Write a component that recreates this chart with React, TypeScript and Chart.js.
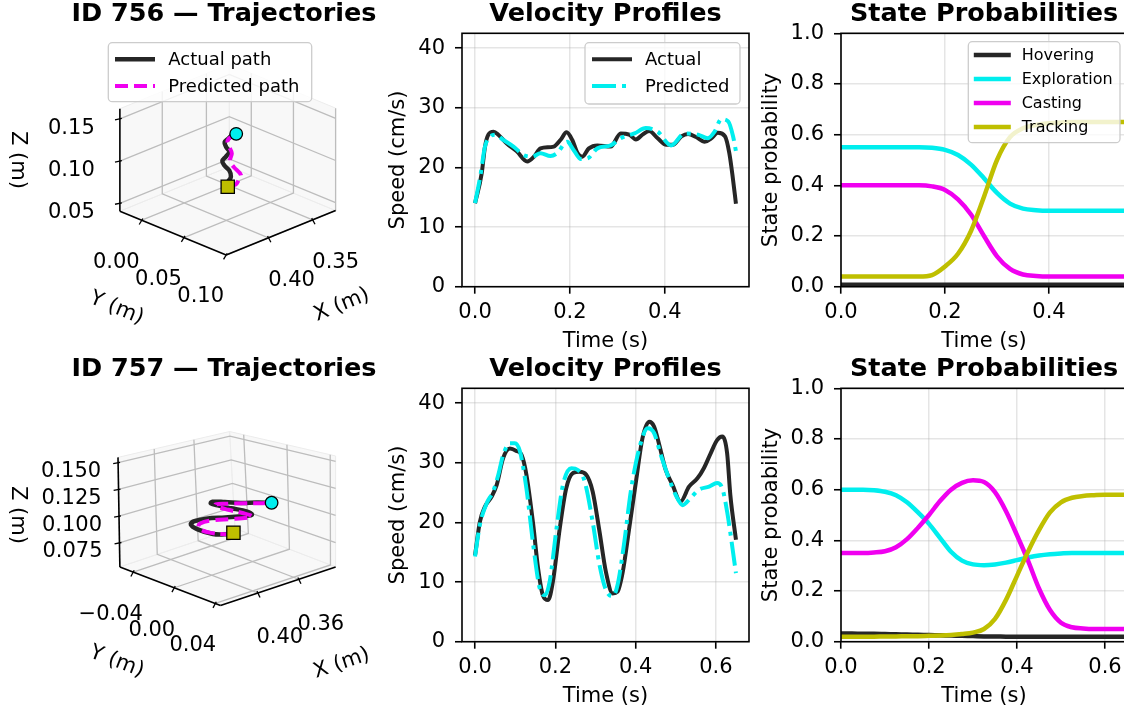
import React, { useEffect, useRef } from 'react';
import { Chart, registerables } from 'chart.js';

Chart.register(...registerables);

const FONT = "'DejaVu Sans', 'Liberation Sans', sans-serif";
Chart.defaults.font.family = FONT;
Chart.defaults.color = '#000';

const BLACK = '#262626';
const CYAN = '#00eeee';
const MAGENTA = '#f000f0';
const OLIVE = '#bfbf00';
const GRID = 'rgba(176,176,176,0.33)';
const GRID3D = '#bdbdbd';
const TICK_FONT = 21;
const LABEL_FONT = 21;
const TITLE_FONT = 25.5;

// ===================== DATA =====================
// --- ID 756 trajectory (m) ---
const traj756ActualX = [0.3841, 0.3841, 0.3805, 0.3823, 0.3876, 0.3902, 0.3859, 0.3823, 0.3859, 0.3876, 0.3841, 0.3787, 0.3745];
const traj756ActualY = [0.035, 0.035, 0.035, 0.035, 0.035, 0.035, 0.035, 0.035, 0.035, 0.035, 0.035, 0.035, 0.035];
const traj756ActualZ = [0.0677, 0.0724, 0.0780, 0.0861, 0.0940, 0.1006, 0.1044, 0.1084, 0.1155, 0.1218, 0.1240, 0.1266, 0.1262];
const traj756PredX = [0.3841, 0.3752, 0.3716, 0.3691, 0.3769, 0.3816, 0.3795, 0.3823, 0.3841, 0.3745];
const traj756PredY = [0.035, 0.035, 0.035, 0.035, 0.035, 0.035, 0.035, 0.035, 0.035, 0.035];
const traj756PredZ = [0.0677, 0.0664, 0.0705, 0.0750, 0.0875, 0.0970, 0.1053, 0.1140, 0.1229, 0.1262];
const traj756XLim = [0.324, 0.448];
const traj756YLim = [-0.026, 0.1];
const traj756ZLim = [0.0407, 0.162];
const traj756XTicks = [0.35, 0.4];
const traj756XTickLabels = ['0.35', '0.40'];
const traj756YTicks = [0.0, 0.05, 0.1];
const traj756YTickLabels = ['0.00', '0.05', '0.10'];
const traj756ZTicks = [0.05, 0.1, 0.15];
const traj756ZTickLabels = ['0.05', '0.10', '0.15'];

// --- ID 757 trajectory (m) ---
const traj757ActualX = [0.3781, 0.3843, 0.3981, 0.4135, 0.4196, 0.4166, 0.4043, 0.3859, 0.3674, 0.3597, 0.3643, 0.3797, 0.3920, 0.3997, 0.3981, 0.3859, 0.3705, 0.3551, 0.3403];
const traj757ActualY = [0, 0, 0, 0, 0, 0, 0, 0, 0, 0, 0, 0, 0, 0, 0, 0, 0, 0, 0];
const traj757ActualZ = [0.0860, 0.0866, 0.0910, 0.1003, 0.1066, 0.1085, 0.1075, 0.1031, 0.0987, 0.0976, 0.1021, 0.1099, 0.1162, 0.1206, 0.1216, 0.1177, 0.1122, 0.1079, 0.1032];
const traj757PredX = [0.3781, 0.3859, 0.4012, 0.4120, 0.4104, 0.3981, 0.3797, 0.3640, 0.3597, 0.3689, 0.3827, 0.3935, 0.3951, 0.3827, 0.3674, 0.3520, 0.3403];
const traj757PredY = [0, 0, 0, 0, 0, 0, 0, 0, 0, 0, 0, 0, 0, 0, 0, 0, 0];
const traj757PredZ = [0.0860, 0.0871, 0.0933, 0.1009, 0.1048, 0.1041, 0.0996, 0.0961, 0.0962, 0.1021, 0.1094, 0.1158, 0.1183, 0.1152, 0.1110, 0.1063, 0.1032];
const traj757XLim = [0.324, 0.4365];
const traj757YLim = [-0.053, 0.045];
const traj757ZLim = [0.0525, 0.155];
const traj757XTicks = [0.36, 0.4];
const traj757XTickLabels = ['0.36', '0.40'];
const traj757YTicks = [-0.04, 0.0, 0.04];
const traj757YTickLabels = ['\u22120.04', '0.00', '0.04'];
const traj757ZTicks = [0.075, 0.1, 0.125, 0.15];
const traj757ZTickLabels = ['0.075', '0.100', '0.125', '0.150'];

// --- Velocity profiles (cm/s) ---
const vel756TimeActual = [0, 0.014, 0.021, 0.028, 0.039, 0.049, 0.067, 0.088, 0.11, 0.124, 0.138, 0.166, 0.18, 0.193, 0.205, 0.216, 0.226, 0.24, 0.258, 0.286, 0.307, 0.325, 0.339, 0.353, 0.367, 0.385, 0.403, 0.417, 0.435, 0.449, 0.466, 0.484, 0.498, 0.512, 0.527, 0.536, 0.543, 0.55];
const vel756Actual = [14.0, 19.0, 23.5, 25.5, 26.0, 25.5, 24.0, 22.7, 21.0, 21.8, 23.2, 23.5, 24.6, 25.9, 24.6, 22.4, 21.8, 23.2, 23.7, 23.5, 25.7, 25.5, 24.7, 25.5, 26.1, 24.9, 23.8, 23.8, 25.2, 25.6, 25.1, 24.3, 24.9, 25.8, 25.2, 22.4, 18.5, 13.9];
const vel756TimePred = [0, 0.011, 0.021, 0.032, 0.042, 0.06, 0.081, 0.102, 0.12, 0.138, 0.159, 0.173, 0.194, 0.208, 0.223, 0.237, 0.258, 0.286, 0.307, 0.336, 0.36, 0.385, 0.413, 0.442, 0.47, 0.491, 0.505, 0.519, 0.534, 0.544, 0.55];
const vel756Pred = [14.0, 18.5, 23.5, 25.2, 25.5, 24.6, 23.5, 22.1, 21.8, 22.4, 21.9, 22.4, 24.3, 22.9, 21.4, 21.5, 23.2, 23.7, 24.9, 25.7, 26.6, 26.0, 23.7, 25.7, 25.5, 24.9, 26.0, 28.1, 27.7, 25.2, 22.7];

const vel757TimeActual = [0, 0.012, 0.025, 0.041, 0.054, 0.07, 0.087, 0.103, 0.116, 0.128, 0.145, 0.157, 0.169, 0.182, 0.194, 0.211, 0.227, 0.244, 0.26, 0.277, 0.293, 0.31, 0.326, 0.343, 0.355, 0.368, 0.384, 0.401, 0.417, 0.434, 0.446, 0.459, 0.475, 0.492, 0.512, 0.533, 0.554, 0.57, 0.587, 0.603, 0.616, 0.628, 0.636, 0.65];
const vel757Actual = [14.5, 20.1, 22.7, 24.3, 26.3, 30.8, 32.4, 32.0, 31.3, 28.0, 19.6, 12.3, 7.8, 7.0, 10.1, 19.0, 25.7, 28.3, 28.5, 28.0, 25.2, 18.5, 11.7, 8.1, 8.4, 11.7, 19.0, 26.9, 34.1, 36.9, 36.1, 33.0, 28.8, 26.3, 23.5, 26.0, 27.4, 29.1, 31.6, 33.8, 34.4, 31.6, 24.6, 17.1];
const vel757TimePred = [0, 0.012, 0.029, 0.045, 0.058, 0.07, 0.087, 0.099, 0.112, 0.128, 0.145, 0.161, 0.174, 0.186, 0.202, 0.219, 0.24, 0.256, 0.273, 0.293, 0.31, 0.326, 0.343, 0.355, 0.372, 0.388, 0.409, 0.43, 0.446, 0.463, 0.483, 0.5, 0.517, 0.537, 0.558, 0.583, 0.603, 0.616, 0.628, 0.65];
const vel757Pred = [14.3, 19.6, 23.2, 25.2, 28.0, 31.3, 33.3, 33.3, 31.9, 25.7, 16.2, 9.0, 7.8, 10.1, 18.5, 26.3, 29.1, 28.8, 26.9, 20.1, 12.9, 8.7, 7.6, 9.5, 16.8, 25.2, 32.4, 35.8, 35.0, 31.3, 27.4, 24.6, 22.9, 24.1, 25.5, 26.0, 26.6, 25.7, 21.8, 11.5];

const velYTicks = [0, 10, 20, 30, 40];
const velYTickLabels = ['0', '10', '20', '30', '40'];
const vel756XTicks = [0, 0.2, 0.4];
const vel756XTickLabels = ['0.0', '0.2', '0.4'];
const vel757XTicks = [0, 0.2, 0.4, 0.6];
const vel757XTickLabels = ['0.0', '0.2', '0.4', '0.6'];

// --- State probabilities ---
const state756Time = [0, 0.025, 0.05, 0.075, 0.1, 0.125, 0.15, 0.175, 0.2, 0.225, 0.25, 0.275, 0.3, 0.325, 0.35, 0.375, 0.4, 0.425, 0.45, 0.475, 0.5, 0.525, 0.55];
const state756Hovering = [0.008, 0.008, 0.008, 0.008, 0.008, 0.008, 0.008, 0.008, 0.008, 0.008, 0.008, 0.008, 0.008, 0.008, 0.008, 0.008, 0.008, 0.008, 0.008, 0.008, 0.008, 0.008, 0.008];
const state756Exploration = [0.55, 0.55, 0.55, 0.55, 0.55, 0.55, 0.55, 0.548, 0.54, 0.52, 0.482, 0.428, 0.37, 0.328, 0.308, 0.302, 0.3, 0.3, 0.3, 0.3, 0.3, 0.3, 0.3];
const state756Casting = [0.4, 0.4, 0.4, 0.4, 0.4, 0.4, 0.4, 0.396, 0.382, 0.345, 0.285, 0.2, 0.12, 0.07, 0.048, 0.042, 0.04, 0.04, 0.04, 0.04, 0.04, 0.04, 0.04];
const state756Tracking = [0.04, 0.04, 0.04, 0.04, 0.04, 0.04, 0.04, 0.046, 0.08, 0.13, 0.22, 0.355, 0.5, 0.59, 0.625, 0.638, 0.645, 0.648, 0.65, 0.65, 0.65, 0.65, 0.65];

const state757Time = [0, 0.025, 0.05, 0.075, 0.1, 0.125, 0.15, 0.175, 0.2, 0.225, 0.25, 0.275, 0.3, 0.325, 0.35, 0.375, 0.4, 0.425, 0.45, 0.475, 0.5, 0.525, 0.55, 0.575, 0.6, 0.625, 0.65];
const state757Hovering = [0.032, 0.032, 0.031, 0.031, 0.03, 0.029, 0.028, 0.027, 0.026, 0.025, 0.024, 0.023, 0.022, 0.021, 0.021, 0.02, 0.02, 0.02, 0.02, 0.02, 0.02, 0.02, 0.02, 0.02, 0.02, 0.02, 0.02];
const state757Exploration = [0.6, 0.6, 0.6, 0.598, 0.592, 0.578, 0.55, 0.51, 0.465, 0.41, 0.355, 0.32, 0.305, 0.302, 0.305, 0.312, 0.322, 0.332, 0.34, 0.345, 0.348, 0.35, 0.35, 0.35, 0.35, 0.35, 0.35];
const state757Casting = [0.35, 0.35, 0.35, 0.352, 0.357, 0.373, 0.405, 0.45, 0.5, 0.555, 0.6, 0.627, 0.637, 0.63, 0.59, 0.515, 0.42, 0.32, 0.21, 0.125, 0.075, 0.057, 0.052, 0.05, 0.05, 0.05, 0.05];
const state757Tracking = [0.02, 0.02, 0.02, 0.02, 0.021, 0.021, 0.022, 0.022, 0.023, 0.024, 0.026, 0.03, 0.036, 0.05, 0.09, 0.165, 0.26, 0.355, 0.44, 0.51, 0.55, 0.568, 0.575, 0.578, 0.58, 0.58, 0.58];

const stateYTicks = [0, 0.2, 0.4, 0.6, 0.8, 1.0];
const stateYTickLabels = ['0.0', '0.2', '0.4', '0.6', '0.8', '1.0'];
const state756XTicks = [0, 0.2, 0.4];
const state756XTickLabels = ['0.0', '0.2', '0.4'];
const state757XTicks = [0, 0.2, 0.4, 0.6];
const state757XTickLabels = ['0.0', '0.2', '0.4', '0.6'];

// ===================== LAYOUT (view geometry) =====================
// Screen corners of the 3D box (canvas px): B=(xmin,ymin), L=(xmax,ymin), R=(xmin,ymax), F=(xmax,ymax); "t" = top (zmax)
const view756 = {
  B: [231.7, 166], L: [115.7, 213.3], R: [344.3, 212.7], F: [228.3, 260],
  Bt: [231.7, 57], Lt: [115.7, 104.3], Rt: [344.3, 103.7], Ft: [228.3, 151],
};
const view757 = {
  B: [237.7, 173], L: [115.7, 214], R: [344.3, 214], F: [222.3, 255],
  Bt: [232, 70], Lt: [113.7, 97.5], Rt: [344.3, 96], Ft: [221.3, 138],
};

// ===================== HELPERS =====================
const lerp2 = (a: number[], b: number[], t: number) => [a[0] + (b[0] - a[0]) * t, a[1] + (b[1] - a[1]) * t];

function project(view: any, lim: any, x: number, y: number, z: number) {
  const u = (x - lim.x[0]) / (lim.x[1] - lim.x[0]);
  const v = (y - lim.y[0]) / (lim.y[1] - lim.y[0]);
  const w = (z - lim.z[0]) / (lim.z[1] - lim.z[0]);
  const bot = lerp2(lerp2(view.B, view.L, u), lerp2(view.R, view.F, u), v);
  const top = lerp2(lerp2(view.Bt, view.Lt, u), lerp2(view.Rt, view.Ft, u), v);
  return lerp2(bot, top, w);
}

function titlePlugin(text: string, centerX?: number) {
  return {
    id: 'panelTitle',
    afterDraw(chart: any) {
      const { ctx, chartArea } = chart;
      ctx.save();
      ctx.font = `bold ${TITLE_FONT}px ${FONT}`;
      ctx.fillStyle = '#000';
      ctx.textAlign = 'center';
      ctx.textBaseline = 'alphabetic';
      const cx = centerX !== undefined ? centerX : (chartArea.left + chartArea.right) / 2;
      ctx.fillText(text, cx, 21);
      ctx.restore();
    },
  };
}

const framePlugin = {
  id: 'frame',
  afterDatasetsDraw(chart: any) {
    const { ctx, chartArea: a } = chart;
    ctx.save();
    ctx.strokeStyle = '#000';
    ctx.lineWidth = 1.6;
    ctx.strokeRect(a.left, a.top, a.right - a.left, a.bottom - a.top);
    ctx.restore();
  },
};

function legendPlugin(s: any) {
  return {
    id: 'boxLegend',
    afterDraw(chart: any) {
      const ctx = chart.ctx;
      ctx.save();
      ctx.beginPath();
      ctx.roundRect(s.left, s.top, s.width, s.height, 4);
      ctx.fillStyle = 'rgba(255,255,255,0.8)';
      ctx.fill();
      ctx.lineWidth = 1.3;
      ctx.strokeStyle = '#cccccc';
      ctx.stroke();
      s.labels.forEach((lab: string, i: number) => {
        const ds = chart.data.datasets.find((d: any) => d.label === lab);
        const y = s.top + s.row0 + i * s.rowGap;
        ctx.beginPath();
        ctx.setLineDash(ds.borderDash || []);
        ctx.strokeStyle = ds.borderColor;
        ctx.lineWidth = ds.borderWidth;
        ctx.moveTo(s.left + s.handleX, y);
        ctx.lineTo(s.left + s.handleX + s.handleLen, y);
        ctx.stroke();
        ctx.setLineDash([]);
        ctx.fillStyle = '#000';
        ctx.font = `${s.fontSize}px ${FONT}`;
        ctx.textAlign = 'left';
        ctx.textBaseline = 'middle';
        ctx.fillText(lab, s.left + s.textX, y + 1);
      });
      ctx.restore();
    },
  };
}

function xAxis(min: number, max: number, ticks: number[], labels: string[], title: string) {
  return {
    type: 'linear',
    min,
    max,
    afterBuildTicks: (sc: any) => { sc.ticks = ticks.map((v) => ({ value: v })); },
    afterFit: (sc: any) => { sc.height = 67; },
    ticks: { font: { size: TICK_FONT }, color: '#000', padding: 6, maxRotation: 0, minRotation: 0, autoSkip: false, callback: (_v: any, i: number) => labels[i] },
    grid: { color: GRID, lineWidth: 1.5, drawTicks: true, tickLength: 7, tickColor: '#000', tickWidth: 1.6 },
    border: { display: false },
    title: { display: true, text: title, font: { size: LABEL_FONT }, color: '#000', padding: 0 },
  };
}

function yAxis(min: number, max: number, ticks: number[], labels: string[], title: string, width: number) {
  return {
    type: 'linear',
    min,
    max,
    afterBuildTicks: (sc: any) => { sc.ticks = ticks.map((v) => ({ value: v })); },
    afterFit: (sc: any) => { sc.width = width; },
    ticks: { font: { size: TICK_FONT }, color: '#000', padding: 10, autoSkip: false, callback: (_v: any, i: number) => labels[i] },
    grid: { color: GRID, lineWidth: 1.5, drawTicks: true, tickLength: 7, tickColor: '#000', tickWidth: 1.6 },
    border: { display: false },
    title: { display: true, text: title, font: { size: LABEL_FONT }, color: '#000', padding: 0 },
  };
}

const common = {
  responsive: false,
  maintainAspectRatio: false,
  animation: false,
  devicePixelRatio: 1,
  events: [],
};

const pts = (xs: number[], ys: number[]) => xs.map((x, i) => ({ x, y: ys[i] }));

function velocityConfig(s: any) {
  return {
    type: 'line',
    data: {
      datasets: [
        { label: 'Actual', data: pts(s.tA, s.vA), borderColor: BLACK, borderWidth: 4, pointRadius: 0, cubicInterpolationMode: 'monotone', fill: false, order: 2 },
        { label: 'Predicted', data: pts(s.tP, s.vP), borderColor: CYAN, borderWidth: 4, borderDash: [24, 6, 4, 6], pointRadius: 0, cubicInterpolationMode: 'monotone', fill: false, order: 1 },
      ],
    },
    options: {
      ...common,
      layout: { padding: { left: 6.4, right: 11, top: 33.3, bottom: s.padBottom } },
      plugins: { legend: { display: false }, tooltip: { enabled: false }, title: { display: false } },
      scales: {
        x: xAxis(s.xMin, s.xMax, s.xTicks, s.xLabels, 'Time (s)'),
        y: yAxis(0, 42.5, velYTicks, velYTickLabels, 'Speed (cm/s)', 75.6),
      },
    },
    plugins: [
      titlePlugin('Velocity Profiles'),
      framePlugin,
      ...(s.legend ? [legendPlugin({ labels: ['Actual', 'Predicted'], left: 205, top: 42.7, width: 155, height: 61.3, row0: 16.6, rowGap: 26.7, handleX: 7, handleLen: 40, textX: 60, fontSize: 18 })] : []),
    ],
  };
}

function stateConfig(s: any) {
  const mk = (label: string, ys: number[], color: string, order: number) => ({
    label, data: pts(s.t, ys), borderColor: color, borderWidth: 4.5, pointRadius: 0, cubicInterpolationMode: 'monotone', fill: false, order,
  });
  return {
    type: 'line',
    data: {
      datasets: [
        mk('Hovering', s.hov, BLACK, 4),
        mk('Exploration', s.exp, CYAN, 3),
        mk('Casting', s.cas, MAGENTA, 2),
        mk('Tracking', s.trk, OLIVE, 1),
      ],
    },
    options: {
      ...common,
      layout: { padding: { left: 14.1, right: 13, top: 33.3, bottom: s.padBottom } },
      plugins: { legend: { display: false }, tooltip: { enabled: false }, title: { display: false } },
      scales: {
        x: xAxis(0, s.xMax, s.xTicks, s.xLabels, 'Time (s)'),
        y: yAxis(0, 1, stateYTicks, stateYTickLabels, 'State probability', 81.9),
      },
    },
    plugins: [
      titlePlugin('State Probabilities'),
      framePlugin,
      ...(s.legend ? [legendPlugin({ labels: ['Hovering', 'Exploration', 'Casting', 'Tracking'], left: 223.3, top: 41.7, width: 151.7, height: 101, row0: 13.3, rowGap: 24, handleX: 5.5, handleLen: 37, textX: 53.4, fontSize: 16 })] : []),
    ],
  };
}

function box3DPlugin(s: any) {
  return {
    id: 'box3d',
    beforeDatasetsDraw(chart: any) {
      const ctx = chart.ctx;
      const xs = chart.scales.x;
      const ys = chart.scales.y;
      const P = (x: number, y: number, z: number) => {
        const q = project(s.view, s.lim, x, y, z);
        return [xs.getPixelForValue(q[0]), ys.getPixelForValue(q[1])];
      };
      const [x0, x1] = s.lim.x;
      const [y0, y1] = s.lim.y;
      const [z0, z1] = s.lim.z;
      ctx.save();
      const pane = (p: number[][]) => {
        ctx.beginPath();
        p.forEach((q, i) => (i ? ctx.lineTo(q[0], q[1]) : ctx.moveTo(q[0], q[1])));
        ctx.closePath();
        ctx.fillStyle = 'rgba(242,242,242,0.5)';
        ctx.fill();
        ctx.strokeStyle = 'rgba(236,236,236,1)';
        ctx.lineWidth = 1;
        ctx.stroke();
      };
      const line = (p: number[][], color: string, lw: number) => {
        ctx.beginPath();
        p.forEach((q, i) => (i ? ctx.lineTo(q[0], q[1]) : ctx.moveTo(q[0], q[1])));
        ctx.strokeStyle = color;
        ctx.lineWidth = lw;
        ctx.stroke();
      };
      pane([P(x0, y0, z0), P(x1, y0, z0), P(x1, y1, z0), P(x0, y1, z0)]);
      pane([P(x0, y0, z0), P(x1, y0, z0), P(x1, y0, z1), P(x0, y0, z1)]);
      pane([P(x0, y0, z0), P(x0, y1, z0), P(x0, y1, z1), P(x0, y0, z1)]);
      s.xTicks.forEach((v: number) => line([P(v, y1, z0), P(v, y0, z0), P(v, y0, z1)], GRID3D, 1.3));
      s.yTicks.forEach((v: number) => line([P(x1, v, z0), P(x0, v, z0), P(x0, v, z1)], GRID3D, 1.3));
      s.zTicks.forEach((v: number) => line([P(x1, y0, v), P(x0, y0, v), P(x0, y1, v)], GRID3D, 1.3));
      line([P(x1, y0, z0), P(x1, y0, z1)], '#000', 1.6);
      line([P(x1, y0, z0), P(x1, y1, z0)], '#000', 1.6);
      line([P(x0, y1, z0), P(x1, y1, z0)], '#000', 1.6);
      ctx.font = `${TICK_FONT}px ${FONT}`;
      ctx.fillStyle = '#000';
      ctx.textAlign = 'center';
      ctx.textBaseline = 'middle';
      const ticks = (vals: number[], labels: string[], off: number[], at: (v: number) => number[]) => {
        const len = Math.hypot(off[0], off[1]);
        const d = [off[0] / len, off[1] / len];
        vals.forEach((v, i) => {
          const p = at(v);
          line([[p[0] - d[0] * 2, p[1] - d[1] * 2], [p[0] + d[0] * 5, p[1] + d[1] * 5]], '#000', 1.3);
          ctx.fillText(labels[i], p[0] + off[0], p[1] + off[1]);
        });
      };
      ticks(s.xTicks, s.xLabels, s.xOff, (v) => P(v, y1, z0));
      ticks(s.yTicks, s.yLabels, s.yOff, (v) => P(x1, v, z0));
      ticks(s.zTicks, s.zLabels, s.zOff, (v) => P(x1, y0, v));
      ctx.font = `${LABEL_FONT}px ${FONT}`;
      s.axisTitles.forEach((t: any) => {
        ctx.save();
        ctx.translate(t.x, t.y);
        ctx.rotate((t.rot * Math.PI) / 180);
        ctx.fillText(t.text, 0, 0);
        ctx.restore();
      });
      ctx.restore();
    },
  };
}

function trajectoryConfig(s: any) {
  const proj = (x: number, y: number, z: number) => {
    const q = project(s.view, s.lim, x, y, z);
    return { x: q[0], y: q[1] };
  };
  const actual = s.ax.map((x: number, i: number) => proj(x, s.ay[i], s.az[i]));
  const pred = s.px.map((x: number, i: number) => proj(x, s.py[i], s.pz[i]));
  return {
    type: 'scatter',
    data: {
      datasets: [
        { label: 'start', data: [actual[0]], pointStyle: 'rect', pointRadius: 9.4, backgroundColor: OLIVE, borderColor: '#000', borderWidth: 1.3, showLine: false, order: 0 },
        { label: 'end', data: [actual[actual.length - 1]], pointStyle: 'circle', pointRadius: 6.3, backgroundColor: CYAN, borderColor: '#000', borderWidth: 1.3, showLine: false, order: 0 },
        { label: 'Predicted path', data: pred, showLine: true, borderColor: MAGENTA, borderWidth: 4, borderDash: [13, 6], pointRadius: 0, tension: 0.4, order: 1 },
        { label: 'Actual path', data: actual, showLine: true, borderColor: BLACK, borderWidth: 4.5, pointRadius: 0, tension: 0.4, order: 2 },
      ],
    },
    options: {
      ...common,
      layout: { padding: 0 },
      plugins: { legend: { display: false }, tooltip: { enabled: false }, title: { display: false } },
      scales: {
        x: { type: 'linear', display: false, min: 0, max: s.width },
        y: { type: 'linear', display: false, min: 0, max: s.height, reverse: true },
      },
    },
    plugins: [
      box3DPlugin(s),
      titlePlugin(s.title, 224),
      ...(s.legend ? [legendPlugin({ labels: ['Actual path', 'Predicted path'], left: 108.3, top: 42.7, width: 203.4, height: 59, row0: 16.6, rowGap: 26.7, handleX: 6.7, handleLen: 40, textX: 60, fontSize: 18 })] : []),
    ],
  };
}

function ChartPanel({ left, top, width, height, make }: any) {
  const ref = useRef<HTMLCanvasElement | null>(null);
  useEffect(() => {
    if (!ref.current) return;
    const chart = new Chart(ref.current, make() as any);
    return () => chart.destroy();
  }, []);
  return <canvas ref={ref} width={width} height={height} style={{ position: 'absolute', left, top, width, height }} />;
}

export default function App() {
  return (
    <div style={{ position: 'fixed', left: 0, top: 0, width: 1124, height: 713, overflow: 'hidden', background: '#ffffff' }}>
      <ChartPanel left={0} top={0} width={380} height={355} make={() => trajectoryConfig({
        title: 'ID 756 \u2014 Trajectories', width: 380, height: 355, view: view756, legend: true,
        lim: { x: traj756XLim, y: traj756YLim, z: traj756ZLim },
        ax: traj756ActualX, ay: traj756ActualY, az: traj756ActualZ,
        px: traj756PredX, py: traj756PredY, pz: traj756PredZ,
        xTicks: traj756XTicks, xLabels: traj756XTickLabels, xOff: [23, 43],
        yTicks: traj756YTicks, yLabels: traj756YTickLabels, yOff: [-25.5, 42],
        zTicks: traj756ZTicks, zLabels: traj756ZTickLabels, zOff: [-48.5, 9.5],
        axisTitles: [
          { text: 'X (m)', x: 341.7, y: 305, rot: -22 },
          { text: 'Y (m)', x: 116.7, y: 308.3, rot: 22.5 },
          { text: 'Z (m)', x: 17.3, y: 160, rot: 90 },
        ],
      })} />
      <ChartPanel left={0} top={355} width={380} height={358} make={() => trajectoryConfig({
        title: 'ID 757 \u2014 Trajectories', width: 380, height: 358, view: view757, legend: false,
        lim: { x: traj757XLim, y: traj757YLim, z: traj757ZLim },
        ax: traj757ActualX, ay: traj757ActualY, az: traj757ActualZ,
        px: traj757PredX, py: traj757PredY, pz: traj757PredZ,
        xTicks: traj757XTicks, xLabels: traj757XTickLabels, xOff: [22, 45],
        yTicks: traj757YTicks, yLabels: traj757YTickLabels, yOff: [-22.5, 42.5],
        zTicks: traj757ZTicks, zLabels: traj757ZTickLabels, zOff: [-47, 9],
        axisTitles: [
          { text: 'X (m)', x: 341.7, y: 308.5, rot: -18.6 },
          { text: 'Y (m)', x: 116.7, y: 306.7, rot: 21 },
          { text: 'Z (m)', x: 17.3, y: 160, rot: 90 },
        ],
      })} />
      <ChartPanel left={380} top={0} width={380} height={355} make={() => velocityConfig({
        tA: vel756TimeActual, vA: vel756Actual, tP: vel756TimePred, vP: vel756Pred,
        xMin: -0.0275, xMax: 0.5775, xTicks: vel756XTicks, xLabels: vel756XTickLabels, padBottom: 1.3, legend: true,
      })} />
      <ChartPanel left={380} top={355} width={380} height={358} make={() => velocityConfig({
        tA: vel757TimeActual, vA: vel757Actual, tP: vel757TimePred, vP: vel757Pred,
        xMin: -0.0325, xMax: 0.6825, xTicks: vel757XTicks, xLabels: vel757XTickLabels, padBottom: 4.3, legend: false,
      })} />
      <ChartPanel left={745} top={0} width={395} height={355} make={() => stateConfig({
        t: state756Time, hov: state756Hovering, exp: state756Exploration, cas: state756Casting, trk: state756Tracking,
        xMax: 0.55, xTicks: state756XTicks, xLabels: state756XTickLabels, padBottom: 1.3, legend: true,
      })} />
      <ChartPanel left={745} top={355} width={395} height={358} make={() => stateConfig({
        t: state757Time, hov: state757Hovering, exp: state757Exploration, cas: state757Casting, trk: state757Tracking,
        xMax: 0.65, xTicks: state757XTicks, xLabels: state757XTickLabels, padBottom: 4.3, legend: false,
      })} />
    </div>
  );
}
